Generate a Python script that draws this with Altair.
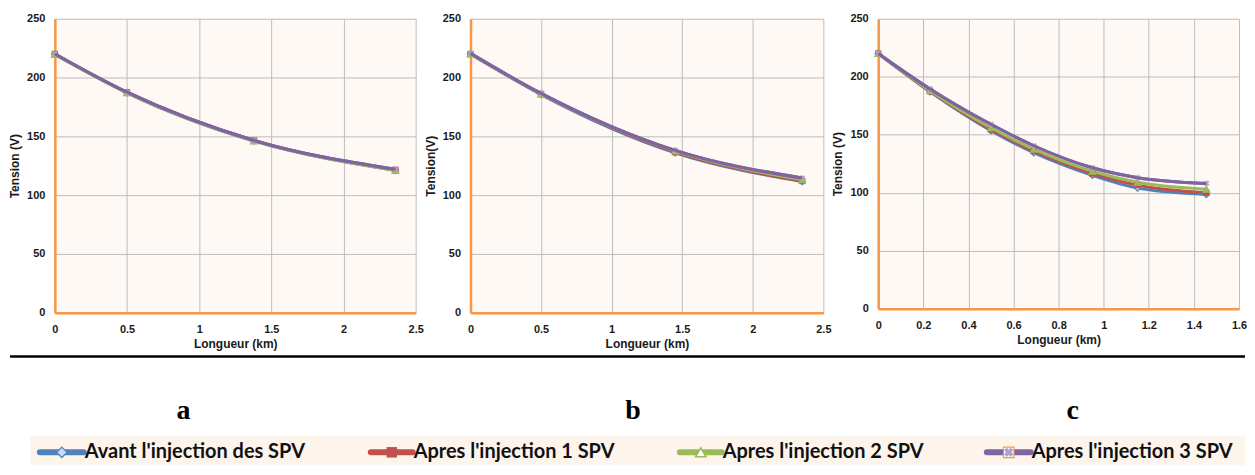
import altair as alt
import pandas as pd

# ---------------- data ----------------
SERIES = ["Avant l'injection des SPV", "Apres l'injection 1 SPV",
          "Apres l'injection 2 SPV", "Apres l'injection 3 SPV"]
COLORS = ["#4f81bd", "#c0504d", "#9bbb59", "#8064a2"]

x_a = [0, 0.5, 1.38, 2.36]
a_avant = [220, 187, 146, 121]
a_spv1 = [220, 187.5, 146.5, 121.5]
a_spv2 = [219.5, 187, 146, 121]
a_spv3 = [220, 187.5, 146.5, 122]

x_b = [0, 0.5, 1.45, 2.35]
b_avant = [220, 185.5, 136, 111.5]
b_spv1 = [220, 186, 136.5, 112]
b_spv2 = [220, 186, 137.5, 113]
b_spv3 = [220.5, 186.5, 138, 114.5]

x_c = [0, 0.23, 0.5, 0.69, 0.95, 1.15, 1.455]
c_avant = [220, 187, 153.5, 134.5, 115, 104, 98.5]
c_spv1 = [220, 187.5, 154.5, 136, 116.5, 106.5, 100]
c_spv2 = [220, 188, 156, 137.5, 118.5, 109, 103]
c_spv3 = [220, 189.5, 159, 140.5, 121.5, 113, 108]

Y_TICKS = [0, 50, 100, 150, 200, 250]
X_TICKS_AB = [0, 0.5, 1, 1.5, 2, 2.5]
X_TICKS_C = [0, 0.2, 0.4, 0.6, 0.8, 1.0, 1.2, 1.4, 1.6]
PANEL_LABELS = ["a", "b", "c"]

# ---------------- styling ----------------
ORANGE = "#f79646"
AXFONT = "Liberation Sans"


def markers(chart_base, i, size, legend=False):
    """marker layers for series i"""
    c = COLORS[i]
    if i == 0:
        return [chart_base.mark_point(shape="diamond", filled=True, size=size,
                                      fill="#c6d9f1", stroke=c, strokeWidth=1.2, opacity=1)]
    if i == 1:
        return [chart_base.mark_point(shape="square", filled=True, size=size,
                                      color=c, opacity=1)]
    if i == 2:
        return [chart_base.mark_point(shape="triangle-up", filled=True, size=size,
                                      fill="#ffffff" if legend else c, stroke=c,
                                      strokeWidth=1.5, opacity=1)]
    if legend:
        return [chart_base.mark_point(shape="square", filled=True, size=size,
                                      fill="#ffffff", stroke=ORANGE, strokeWidth=1.2, opacity=1),
                chart_base.mark_point(shape="cross", filled=True, size=size * 0.8,
                                      angle=45, color="#b3a2c7", opacity=1)]
    return [chart_base.mark_point(shape="cross", filled=True, size=size,
                                  angle=45, color="#b3a2c7", opacity=0.9)]


def panel(xs, series_vals, xmax, xticks, ytitle, w, h):
    xenc = alt.X("x:Q",
                 scale=alt.Scale(domain=[0, xmax], nice=False, zero=False),
                 axis=alt.Axis(values=xticks, format="~g", title="Longueur (km)",
                               grid=True, labelPadding=11, titlePadding=4,
                               labelFlush=False))
    yenc = alt.Y("v:Q",
                 scale=alt.Scale(domain=[0, 250], nice=False),
                 axis=alt.Axis(values=Y_TICKS, title=ytitle, grid=True,
                               labelPadding=10, titlePadding=5))
    line_layers = []
    point_layers = []
    for i, (name, vals) in enumerate(zip(SERIES, series_vals)):
        df = pd.DataFrame({"x": xs, "v": vals, "s": name})
        base = alt.Chart(df).encode(x=xenc, y=yenc)
        line_layers.append(base.mark_line(interpolate="monotone", strokeWidth=3,
                                          color=COLORS[i]))
        point_layers.extend(markers(base, i, 40))
    layers = line_layers[:] + point_layers + [line_layers[3]]
    return alt.layer(*layers).properties(width=w, height=h)


pa = panel(x_a, [a_avant, a_spv1, a_spv2, a_spv3], 2.5, X_TICKS_AB, "Tension (V)", 362, 295)
pb = panel(x_b, [b_avant, b_spv1, b_spv2, b_spv3], 2.5, X_TICKS_AB, "Tension(V)", 354, 295)
pc = panel(x_c, [c_avant, c_spv1, c_spv2, c_spv3], 1.6, X_TICKS_C, "Tension (V)", 362, 291)

row = alt.hconcat(pa, pb, pc, spacing=0)

# ---------------- bottom legend strip ----------------
# the legend group is aligned with panel a's plot area, which sits X0 px in
X0 = 45
one = pd.DataFrame({"k": [0]})
LEG_W = 1239 - X0
LEG_H = 109
legend_layers = []
legend_layers.append(alt.Chart(one).mark_rect(color="#fdf4ec").encode(
    x=alt.value(20 - X0), x2=alt.value(LEG_W), y=alt.value(80), y2=alt.value(LEG_H)))
legend_layers.append(alt.Chart(one).mark_rule(color="#000000", strokeWidth=2.5).encode(
    x=alt.value(-X0), x2=alt.value(LEG_W), y=alt.value(0)))

label_x = [174, 625, 1066]
for lx, lab in zip(label_x, PANEL_LABELS):
    legend_layers.append(alt.Chart(pd.DataFrame({"t": [lab]})).mark_text(
        font="Liberation Serif", fontWeight="bold", fontSize=28, color="#000000",
        baseline="middle", align="center").encode(
        text="t:N", x=alt.value(lx - X0), y=alt.value(55)))

line_x = [(30, 74), (362, 404), (672, 714), (980, 1024)]
LY = 96
for i, name in enumerate(SERIES):
    x0, x1 = line_x[i][0] - X0, line_x[i][1] - X0
    legend_layers.append(alt.Chart(one).mark_rule(color=COLORS[i], strokeWidth=6,
                                                  strokeCap="round").encode(
        x=alt.value(x0), x2=alt.value(x1), y=alt.value(LY)))
    mb = alt.Chart(one).encode(x=alt.value((x0 + x1) / 2), y=alt.value(LY))
    legend_layers.extend(markers(mb, i, 110, legend=True))
    legend_layers.append(alt.Chart(pd.DataFrame({"t": [name]})).mark_text(
        font="Lato", fontWeight="bold", fontSize=20, color="#111111",
        align="left", baseline="middle").encode(
        text="t:N", x=alt.value(x1 + 1), y=alt.value(LY)))

legend = alt.layer(*legend_layers).properties(
    width=LEG_W, height=LEG_H,
    view=alt.ViewBackground(fill="#ffffff", stroke=None),
)

chart = alt.vconcat(row, legend, spacing=5).properties(
    padding={"left": 0, "top": 4, "right": 0, "bottom": 0},
    background="#ffffff",
).configure_view(
    stroke=None, fill="#fef9f4"
).configure_axis(
    labelFont=AXFONT, labelFontWeight="bold", labelFontSize=11, labelColor="#1a1a1a",
    titleFont=AXFONT, titleFontWeight="bold", titleFontSize=12, titleColor="#1a1a1a",
    domainColor=ORANGE, domainWidth=2.5, ticks=False,
    gridColor="#bdbdbd", gridWidth=1,
)

chart.save("out.html", embed_options={"renderer": "svg", "actions": False})
